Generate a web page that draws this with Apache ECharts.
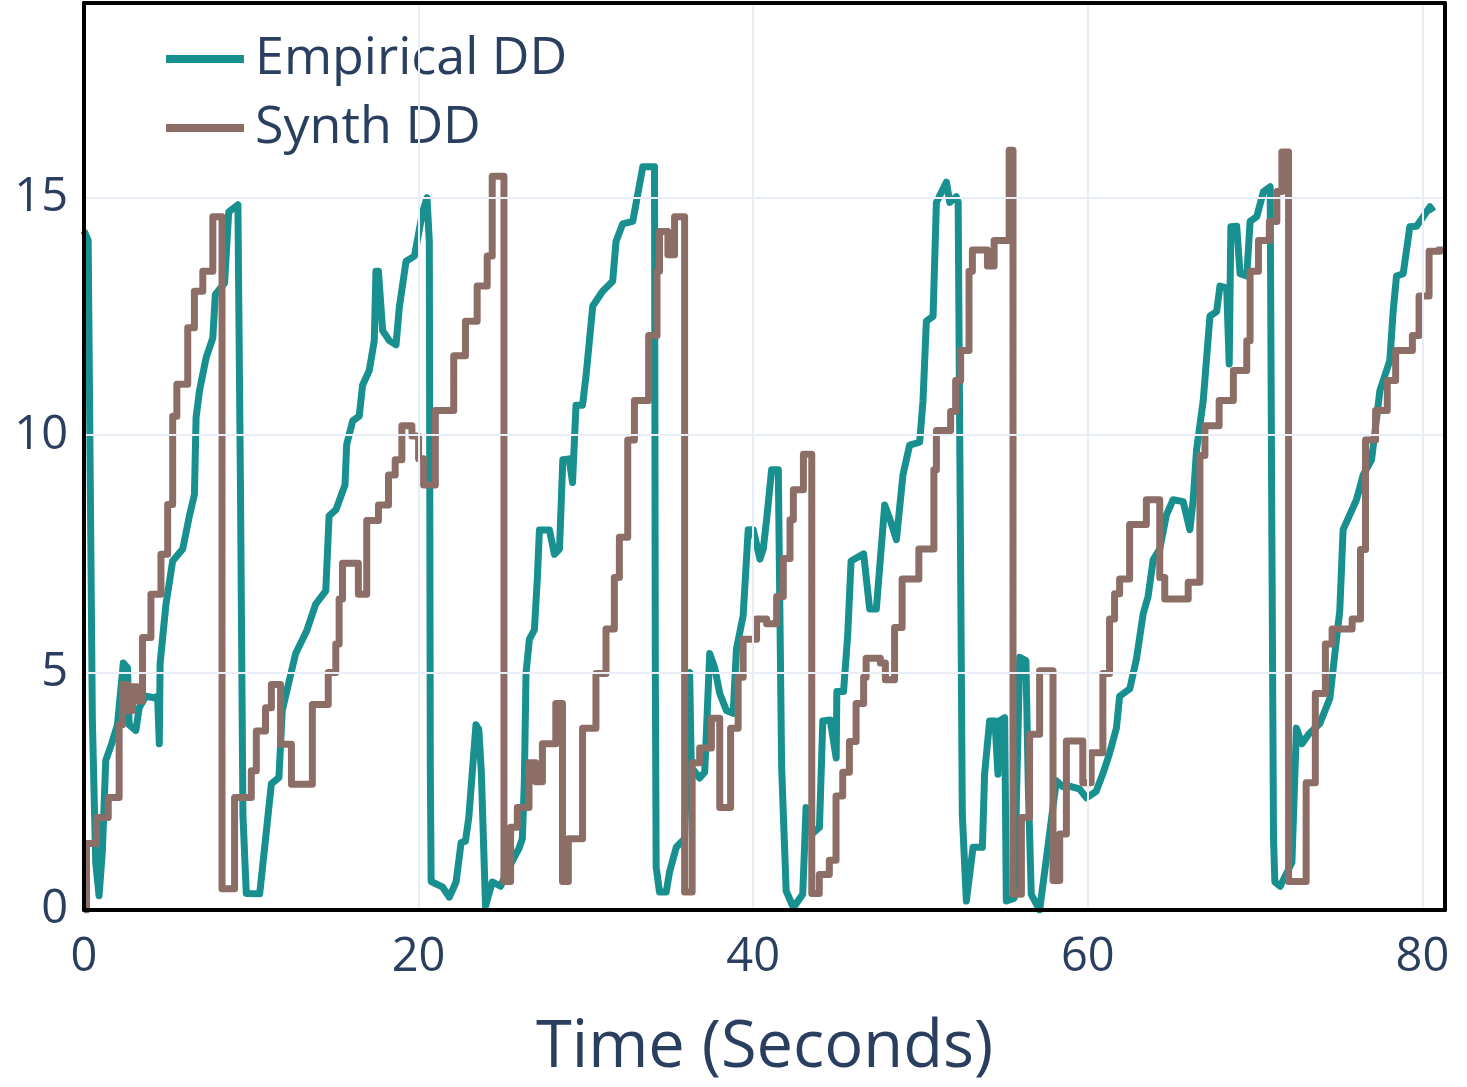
<!DOCTYPE html>
<html>
<head>
<meta charset="utf-8">
<script src="https://cdn.jsdelivr.net/npm/echarts@6/dist/echarts.min.js"></script>
<style>
  html, body { margin: 0; padding: 0; background: #ffffff; }
  #chart { width: 1467px; height: 1087px; }
</style>
</head>
<body>
<div id="chart"></div>
<script>
// Empirical DD (time in seconds, value)
const empT = [0,0.25,0.35,0.5,0.7,0.9,1.1,1.3,1.65,2.0,2.35,2.6,2.7,3.1,3.3,3.7,4.2,4.4,4.5,4.55,4.9,5.3,5.9,6.3,6.6,6.7,6.9,7.3,7.7,7.85,8.4,8.65,9.2,9.35,9.5,9.7,10.5,10.65,11.2,11.65,11.85,12.45,12.65,13.3,13.85,14.45,14.65,15.06,15.6,15.7,16.06,16.45,16.65,17.05,17.35,17.45,17.6,17.85,18.25,18.65,18.85,19.25,19.75,20.24,20.5,20.64,20.7,20.75,21.44,21.84,22.24,22.54,22.8,23.0,23.43,23.6,23.75,24.0,24.4,24.9,25.4,26.0,26.2,26.32,26.42,26.62,26.92,27.1,27.22,27.82,28.12,28.42,28.62,29.0,29.2,29.41,29.8,30.01,30.41,31.0,31.6,31.8,32.2,32.8,33.4,34.1,34.15,34.2,34.4,34.8,35.0,35.4,35.9,36.2,36.3,36.8,37.1,37.4,37.7,38.0,38.4,38.8,39.0,39.4,39.7,40.0,40.4,40.6,40.8,41.1,41.5,41.7,41.97,42.4,42.96,43.16,43.5,43.96,44.16,44.6,44.96,45.0,45.4,45.65,45.85,46.6,46.96,47.36,47.86,48.2,48.56,48.95,49.35,49.95,50.15,50.35,50.75,50.95,51.55,51.75,52.14,52.25,52.5,52.74,53.14,53.7,53.83,54.13,54.45,54.63,54.7,55.03,55.13,55.6,55.93,56.3,56.45,56.62,57.12,57.53,58.12,58.5,59.0,59.5,59.92,60.5,60.92,61.3,61.71,61.9,62.51,62.91,63.31,63.6,63.91,64.3,64.7,65.1,65.7,66.1,66.3,66.5,66.9,67.3,67.7,67.9,68.3,68.45,68.55,68.9,69.1,69.5,69.7,70.1,70.5,70.9,71.0,71.1,71.18,71.5,72.2,72.47,72.8,73.2,73.87,74.47,74.86,75.06,75.26,76.06,76.46,76.96,77.46,78.05,78.25,78.45,78.85,79.25,79.65,80.05,80.45,80.65];
const empV = [14.3,14.1,10,4,1.0,0.3,1.25,3.15,3.5,3.9,5.2,5.1,3.9,3.78,4.26,4.5,4.47,4.5,3.5,5.2,6.44,7.35,7.6,8.3,8.75,10.37,10.93,11.63,12.05,12.96,13.2,14.7,14.85,9,2,0.35,0.34,0.83,2.66,2.79,4.2,5.1,5.4,5.87,6.44,6.72,8.3,8.43,8.95,9.8,10.3,10.4,11.05,11.36,11.99,13.45,13.45,12.2,11.99,11.9,12.7,13.66,13.77,14.7,15.0,14.08,3,0.6,0.48,0.27,0.59,1.42,1.45,1.95,3.9,3.8,2.9,0.08,0.59,0.5,0.9,1.3,1.5,2.7,4.98,5.7,5.9,7.0,8.0,8.0,7.49,7.6,9.48,9.5,9.0,10.63,10.63,11.26,12.72,13.03,13.24,14.08,14.45,14.5,15.65,15.65,5,0.9,0.38,0.38,0.8,1.32,1.5,5.0,3.0,2.78,2.9,5.4,5.1,4.56,4.2,4.14,5.5,6.2,8.01,8.01,7.39,7.6,8.22,9.27,9.27,3,0.4,0.05,0.33,2.16,1.6,1.74,3.98,4.0,3.2,4.6,4.6,5.8,7.35,7.5,6.34,6.34,8.53,8.2,7.8,9.16,9.79,9.85,10.73,12.4,12.5,14.9,15.33,14.9,15.02,14.9,2,0.19,1.32,1.32,2.86,3.98,3.98,2.86,3.98,4.05,0.19,0.25,5.32,5.25,2.5,0.33,0.0,1.1,2.72,2.6,2.6,2.55,2.36,2.5,2.89,3.3,3.83,4.5,4.66,5.29,6.24,6.6,7.38,7.6,8.32,8.64,8.6,8.01,8.64,9.69,10.73,12.51,12.6,13.14,13.1,11.5,14.39,14.4,13.4,13.35,14.5,14.6,15.13,15.23,8,1.5,0.59,0.5,1.0,3.83,3.5,3.7,3.93,4.46,5.7,6.3,8.01,8.64,9.16,9.48,10.94,11.57,12.6,13.35,13.4,14.39,14.4,14.6,14.81,14.71];

// Synth DD (step levels: time where a level starts, level)
const synT = [0,0.15,0.75,1.45,2.1,2.3,2.6,2.9,3.2,3.5,4.0,4.6,5.0,5.3,5.55,6.2,6.6,7.1,7.7,8.25,9.0,10.0,10.3,10.85,11.2,11.75,12.4,13.65,14.6,15.05,15.25,15.45,16.4,16.9,17.6,18.2,18.6,19.0,19.6,20.0,20.3,21.0,22.1,22.8,23.5,24.1,24.4,25.1,25.5,25.9,26.6,27.0,27.4,28.2,28.6,28.95,29.8,30.6,31.2,31.7,32.0,32.5,32.9,33.75,34.25,34.4,34.9,35.3,35.9,36.35,36.8,37.5,38.0,38.65,39.1,39.4,40.2,40.8,41.4,41.8,42.2,42.4,43.0,43.5,43.95,44.55,44.95,45.35,45.75,46.15,46.6,46.75,47.6,47.9,48.45,48.9,49.9,50.8,50.95,51.8,52.1,52.4,52.9,53.1,54.0,54.4,55.3,55.53,56.03,56.52,57.12,57.92,58.32,58.72,59.7,60.2,60.9,61.3,61.6,61.9,62.5,63.5,64.3,64.6,66.0,66.7,67.0,67.85,68.7,69.5,69.7,70.2,70.85,71.3,71.6,72.0,73.05,73.6,74.2,74.6,75.8,76.3,76.6,77.2,77.9,78.4,79.4,79.8,80.4,81.05];
const synV = [0,1.4,1.95,2.37,3.9,4.75,4.2,4.7,4.4,5.74,6.65,7.49,8.54,10.4,11.07,12.26,13.03,13.45,14.6,0.45,2.37,2.93,3.77,4.26,4.75,3.49,2.65,4.33,5.0,5.6,6.55,7.3,6.65,8.2,8.53,9.16,9.48,10.2,9.98,9.5,8.95,10.52,11.67,12.4,13.14,13.77,15.45,0.6,1.74,2.16,3.1,2.7,3.5,4.35,0.6,1.5,3.83,4.98,5.92,7.0,7.85,9.9,10.73,12.1,13.45,14.29,13.8,14.6,0.38,3.1,3.41,4.04,2.16,3.83,4.9,5.7,6.13,6.03,6.6,7.4,8.22,8.85,9.6,0.35,0.75,1.05,2.4,2.9,3.55,4.35,4.9,5.3,5.2,4.85,5.95,6.97,7.6,9.27,10.1,10.5,11.15,11.78,13.45,13.9,13.56,14.1,16.0,0.33,1.95,3.7,5.04,0.62,1.6,3.56,2.68,3.31,4.98,6.13,6.66,6.97,8.12,8.64,7.0,6.55,6.9,9.57,10.2,10.73,11.36,11.99,13.45,14.1,14.5,15.13,15.96,0.6,2.68,4.56,5.6,5.92,6.13,7.59,9.9,10.52,11.15,11.78,12.1,12.93,13.87,13.97];

const seriesNames = ['Empirical DD', 'Synth DD'];
const seriesColors = ['#17908f', '#8c6e67'];
const xTicks = [0, 20, 40, 60, 80];
const yTicks = [0, 5, 10, 15];

const empData = empT.map((t, i) => [t, empV[i]]);
const synData = synT.map((t, i) => [t, synV[i]]);

const chart = echarts.init(document.getElementById('chart'), null, { renderer: 'canvas' });
const textColor = '#2a3f5f';
const font = 'Open Sans';
const frameLine = { show: true, onZero: false, lineStyle: { color: '#000000', width: 4 } };
const gridLine = { show: true, lineStyle: { color: '#e9eef6', width: 2 } };
const X_MIN = 0, X_MAX = 81.35, Y_MIN = 0, Y_MAX = 19.1;

chart.setOption({
  animation: false,
  backgroundColor: '#ffffff',
  grid: { left: 84, right: 22, top: 3, bottom: 177, show: false },
  legend: {
    show: true,
    orient: 'vertical',
    left: 161, top: 24,
    icon: 'rect',
    itemWidth: 78, itemHeight: 8,
    itemGap: 9,
    data: seriesNames,
    textStyle: { color: textColor, fontFamily: font, fontSize: 52, lineHeight: 60, padding: [0, 0, 0, 6] }
  },
  xAxis: [
    {
      type: 'value', position: 'bottom', z: 10,
      min: X_MIN, max: X_MAX, interval: 20,
      name: 'Time (Seconds)',
      nameLocation: 'middle',
      nameGap: 106,
      nameTextStyle: { color: textColor, fontFamily: font, fontSize: 65 },
      axisLine: frameLine,
      axisTick: { show: false },
      axisLabel: {
        color: textColor, fontFamily: font, fontSize: 47, margin: 24,
        showMaxLabel: false,
        formatter: v => (xTicks.includes(v) ? String(v) : '')
      },
      splitLine: gridLine
    },
    {
      type: 'value', position: 'top', z: 10,
      min: X_MIN, max: X_MAX, interval: 20,
      axisLine: frameLine,
      axisTick: { show: false },
      axisLabel: { show: false },
      splitLine: { show: false }
    }
  ],
  yAxis: [
    {
      type: 'value', position: 'left', z: 10,
      min: Y_MIN, max: Y_MAX, interval: 5,
      axisLine: frameLine,
      axisTick: { show: false },
      axisLabel: {
        color: textColor, fontFamily: font, fontSize: 47, margin: 16,
        formatter: v => (yTicks.includes(v) ? String(v) : '')
      },
      splitLine: gridLine
    },
    {
      type: 'value', position: 'right', z: 10,
      min: Y_MIN, max: Y_MAX, interval: 5,
      axisLine: frameLine,
      axisTick: { show: false },
      axisLabel: { show: false },
      splitLine: { show: false }
    }
  ],
  series: [
    {
      name: seriesNames[0], type: 'line', data: empData,
      xAxisIndex: 0, yAxisIndex: 0,
      showSymbol: false, symbol: 'none',
      lineStyle: { color: seriesColors[0], width: 7, join: 'round' },
      itemStyle: { color: seriesColors[0] },
      z: 2
    },
    {
      name: seriesNames[1], type: 'line', data: synData, step: 'end',
      xAxisIndex: 0, yAxisIndex: 0,
      showSymbol: false, symbol: 'none',
      lineStyle: { color: seriesColors[1], width: 7, join: 'round' },
      itemStyle: { color: seriesColors[1] },
      z: 3
    }
  ]
});
</script>
</body>
</html>
